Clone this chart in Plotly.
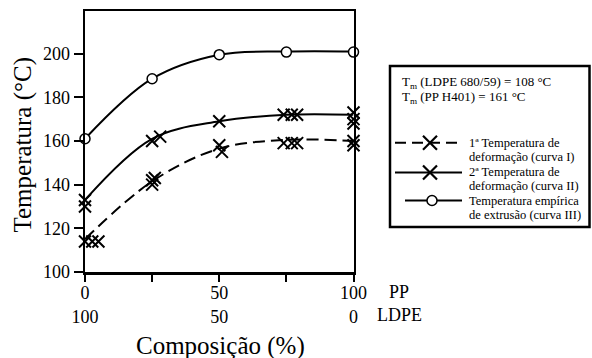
import plotly.graph_objects as go

W, H = 592, 358

# ---------------- data ----------------
curve_x = [0, 25, 50, 75, 100]
curve_I = [115, 141.5, 156.5, 160.5, 160]
curve_II = [133, 161, 169, 172, 172]
curve_III = [161, 188.5, 199.5, 201, 201]

pts_I_x = [0, 2.7, 5, 25, 25, 26, 50, 51, 74, 77, 79, 100, 100, 103.5]
pts_I_y = [114, 114, 114, 140, 142, 143, 158, 155, 159, 159, 159, 160, 158, 157]
pts_II_x = [0, 0, 25, 28, 50, 74, 77, 79, 100, 100, 100]
pts_II_y = [133, 130, 160, 162, 169, 172, 172, 172, 173, 170, 168]
pts_III_x = [0, 25, 50, 75, 100]
pts_III_y = [161, 188.5, 199.5, 200.7, 200.7]

x_ticks = [0, 50, 100]
x_minor_ticks = [25, 75]
x_tick_pp = ["0", "50", "100"]
x_tick_ldpe = ["100", "50", "0"]
y_ticks = [100, 120, 140, 160, 180, 200]

tm_lines = ["T<sub>m</sub> (LDPE 680/59) = 108 °C", "T<sub>m</sub> (PP H401) = 161 °C"]
legend_lines = ["1ª Temperatura de", "deformação (curva I)",
                "2ª Temperatura de", "deformação (curva II)",
                "Temperatura empírica", "de extrusão (curva III)"]

FONT = "Liberation Serif"


def px(x):
    return x / W


def py(y):
    return 1 - y / H


fig = go.Figure()

# fitted curves
fig.add_trace(go.Scatter(x=curve_x, y=curve_I, mode="lines", line=dict(color="black", width=2, dash="12px,6px", shape="spline", smoothing=1.0), showlegend=False, hoverinfo="skip"))
fig.add_trace(go.Scatter(x=curve_x, y=curve_II, mode="lines", line=dict(color="black", width=2, shape="spline", smoothing=1.0), showlegend=False, hoverinfo="skip"))
fig.add_trace(go.Scatter(x=curve_x, y=curve_III, mode="lines", line=dict(color="black", width=2, shape="spline", smoothing=1.0), showlegend=False, hoverinfo="skip"))

# measured points
xmark = dict(symbol="x-thin-open", size=12, color="black", line=dict(color="black", width=2))
fig.add_trace(go.Scatter(x=pts_I_x, y=pts_I_y, mode="markers", marker=xmark, cliponaxis=False, showlegend=False))
fig.add_trace(go.Scatter(x=pts_II_x, y=pts_II_y, mode="markers", marker=xmark, cliponaxis=False, showlegend=False))
fig.add_trace(go.Scatter(x=pts_III_x, y=pts_III_y, mode="markers",
                         marker=dict(symbol="circle", size=10, color="white", line=dict(color="black", width=1.5)),
                         cliponaxis=False, showlegend=False))

# legend key samples on a pixel-space helper axis
ly = [142.7, 172.5, 200.5]
fig.add_trace(go.Scatter(x=[395, 462], y=[ly[0], ly[0]], xaxis="x2", yaxis="y2", mode="lines",
                         line=dict(color="black", width=2, dash="11px,6px"), showlegend=False, hoverinfo="skip"))
fig.add_trace(go.Scatter(x=[395, 462], y=[ly[1], ly[1]], xaxis="x2", yaxis="y2", mode="lines",
                         line=dict(color="black", width=2), showlegend=False, hoverinfo="skip"))
fig.add_trace(go.Scatter(x=[405, 462], y=[ly[2], ly[2]], xaxis="x2", yaxis="y2", mode="lines",
                         line=dict(color="black", width=2), showlegend=False, hoverinfo="skip"))
fig.add_trace(go.Scatter(x=[430, 430], y=[ly[0], ly[1]], xaxis="x2", yaxis="y2", mode="markers",
                         marker=dict(symbol="x-thin-open", size=14, color="black", line=dict(color="black", width=2.2)),
                         showlegend=False, hoverinfo="skip"))
fig.add_trace(go.Scatter(x=[432], y=[ly[2]], xaxis="x2", yaxis="y2", mode="markers",
                         marker=dict(symbol="circle", size=10, color="white", line=dict(color="black", width=1.5)),
                         showlegend=False, hoverinfo="skip"))

ticktext = [a + "<br>" + b for a, b in zip(x_tick_pp, x_tick_ldpe)]

axis_common = dict(showgrid=False, zeroline=False, showline=True, linecolor="black", linewidth=2.5,
                   mirror=True, ticks="outside", tickcolor="black", tickwidth=2, automargin=False,
                   tickfont=dict(family=FONT, size=18, color="black"))

fig.update_layout(
    width=W, height=H,
    margin=dict(l=0, r=0, t=0, b=0, pad=0),
    paper_bgcolor="white", plot_bgcolor="rgba(0,0,0,0)",
    showlegend=False,
    xaxis=dict(domain=[px(85), px(353.5)], range=[0, 100], tickvals=x_ticks, ticktext=ticktext,
               ticklen=7, ticklabelstandoff=-4,
               minor=dict(tickvals=x_minor_ticks, ticks="outside", ticklen=7, tickwidth=2,
                          tickcolor="black", showgrid=False),
               **axis_common),
    yaxis=dict(domain=[py(272), py(11)], range=[100, 219.5], tickvals=y_ticks,
               ticklen=9, **axis_common),
    xaxis2=dict(domain=[0, 1], range=[0, W], visible=False, fixedrange=True, automargin=False),
    yaxis2=dict(domain=[0, 1], range=[H, 0], visible=False, fixedrange=True, anchor="x2", automargin=False),
)

annotations = []
annotations.append(dict(text="Temperatura (°C)", x=px(22), y=py(144.5), xref="paper", yref="paper",
                        textangle=-90, showarrow=False, xanchor="center", yanchor="middle",
                        font=dict(family=FONT, size=25, color="black")))
annotations.append(dict(text="Composição (%)", x=px(220), y=py(346), xref="paper", yref="paper",
                        showarrow=False, xanchor="center", yanchor="middle",
                        font=dict(family=FONT, size=25, color="black")))
annotations.append(dict(text="PP", x=px(386.5), y=py(292.3), xref="paper", yref="paper",
                        showarrow=False, xanchor="left", yanchor="middle",
                        font=dict(family=FONT, size=18, color="black")))
annotations.append(dict(text="LDPE", x=px(375), y=py(315), xref="paper", yref="paper",
                        showarrow=False, xanchor="left", yanchor="middle",
                        font=dict(family=FONT, size=18, color="black")))

for i, t in enumerate(tm_lines):
    annotations.append(dict(text=t, x=px(400), y=py(82 + i * 15.5), xref="paper", yref="paper",
                            showarrow=False, xanchor="left", yanchor="middle",
                            font=dict(family=FONT, size=13, color="black")))
for i, t in enumerate(legend_lines):
    annotations.append(dict(text=t, x=px(467), y=py(142.5 + i * 14.5), xref="paper", yref="paper",
                            showarrow=False, xanchor="left", yanchor="middle",
                            font=dict(family=FONT, size=12.5, color="black")))
fig.update_layout(annotations=annotations)

fig.add_shape(type="rect", xref="paper", yref="paper", x0=px(390), x1=px(589.5), y0=py(227), y1=py(66),
              line=dict(color="black", width=2.5), fillcolor="rgba(0,0,0,0)")

fig.write_html("out.html", config={"displayModeBar": False, "staticPlot": True},
               post_script="document.body.style.margin='0px';document.body.style.padding='0px';")
